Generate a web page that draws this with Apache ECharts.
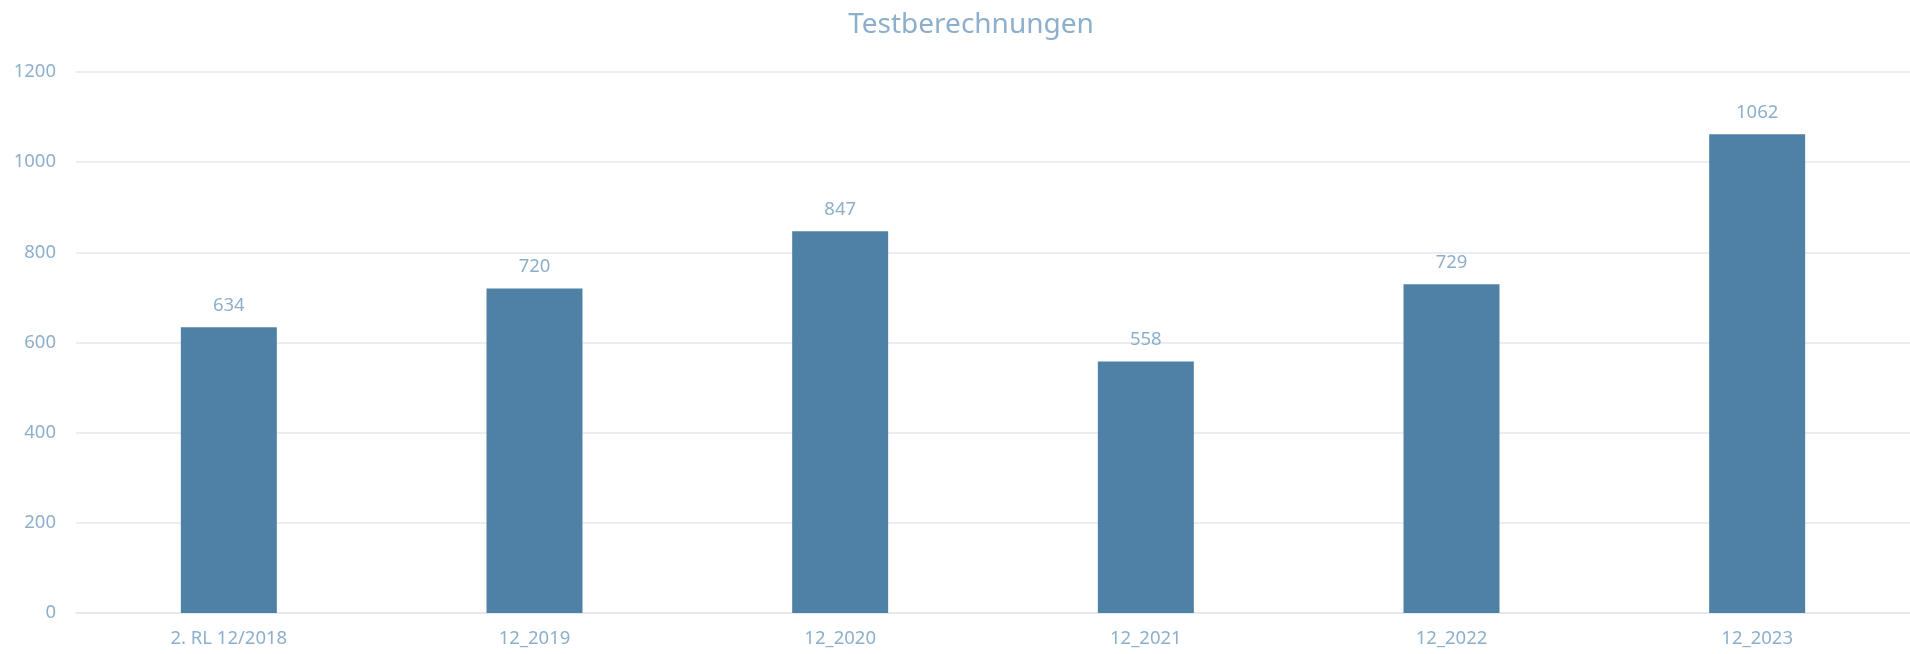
<!DOCTYPE html>
<html><head><meta charset="utf-8">
<script src="https://cdn.jsdelivr.net/npm/echarts@6/dist/echarts.min.js"></script>
<style>html,body{margin:0;padding:0;background:#fff}#c{width:1910px;height:654px}</style>
</head><body><div id="c"></div>
<script>
const categories = ['2. RL 12/2018', '12_2019', '12_2020', '12_2021', '12_2022', '12_2023'];
const values = [634, 720, 847, 558, 729, 1062];
const titleText = 'Testberechnungen';

const txt = '#8DAFCB';
const chart = echarts.init(document.getElementById('c'));
chart.setOption({
  animation: false,
  title: { text: titleText, left: 966, top: 6, textAlign: 'center',
    textStyle: { color: txt, fontFamily: 'Noto Sans', fontSize: 28, fontWeight: 'normal' } },
  grid: { left: 76, right: 0, top: 72, bottom: 41, containLabel: false },
  xAxis: { type: 'category', data: categories,
    axisLine: { show: true, lineStyle: { color: '#E3E8EE', width: 1.5 } },
    axisTick: { show: false },
    axisLabel: { color: txt, fontFamily: 'Noto Sans', fontSize: 18.5, margin: 16 } },
  yAxis: { type: 'value', min: 0, max: 1200, interval: 200,
    axisLine: { show: false }, axisTick: { show: false },
    splitLine: { lineStyle: { color: '#E3E8EE', width: 1.5 } },
    axisLabel: { color: txt, fontFamily: 'Noto Sans', fontSize: 18.5, margin: 20,
      formatter: v => String(v) } },
  series: [{ type: 'bar', data: values, barWidth: '31.4%',
    itemStyle: { color: '#4E81A5' },
    label: { show: true, position: 'top', distance: 12, color: txt, fontFamily: 'Noto Sans', fontSize: 18.5 } }]
});
</script></body></html>
